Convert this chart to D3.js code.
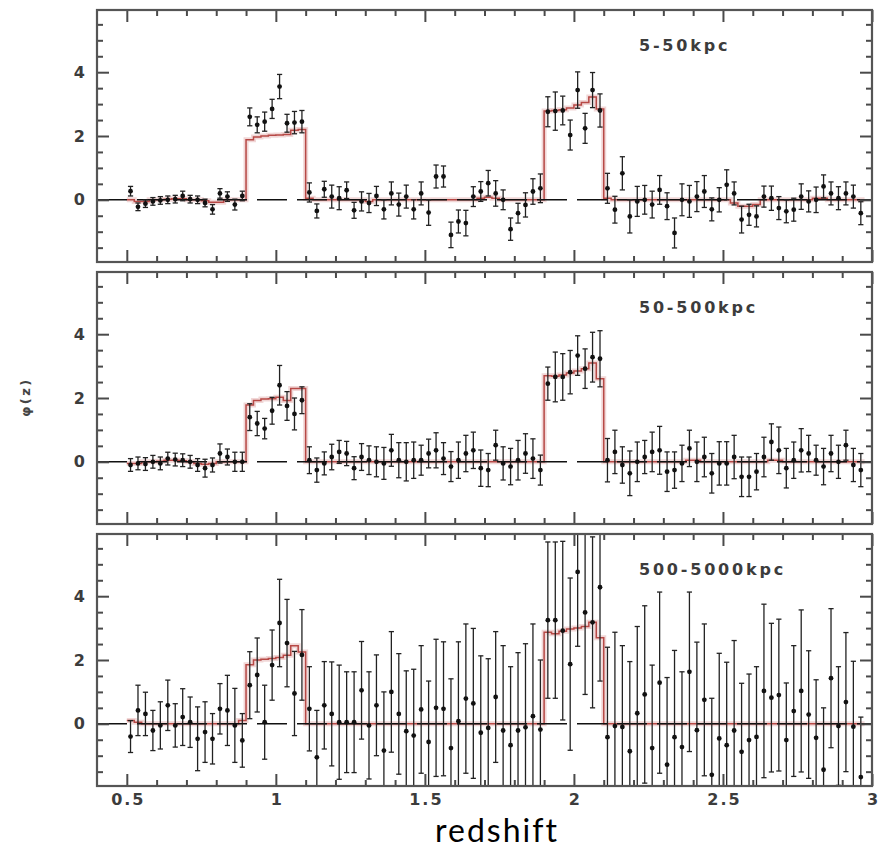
<!DOCTYPE html>
<html><head><meta charset="utf-8">
<script src="https://cdn.jsdelivr.net/npm/d3@7"></script>
<style>body{margin:0;background:#fff}svg{display:block}</style>
</head><body><svg id="c" width="889" height="851"></svg>
<script>
// ---- data ----
const redshift = [
 0.5125,0.5375,0.5625,0.5875,0.6125,0.6375,0.6625,0.6875,0.7125,0.7375,
 0.7625,0.7875,0.8125,0.8375,0.8625,0.8875,0.9125,0.9375,0.9625,0.9875,
 1.0125,1.0375,1.0625,1.0875,1.1125,1.1375,1.1625,1.1875,1.2125,1.2375,
 1.2625,1.2875,1.3125,1.3375,1.3625,1.3875,1.4125,1.4375,1.4625,1.4875,
 1.5125,1.5375,1.5625,1.5875,1.6125,1.6375,1.6625,1.6875,1.7125,1.7375,
 1.7625,1.7875,1.8125,1.8375,1.8625,1.8875,1.9125,1.9375,1.9625,1.9875,
 2.0125,2.0375,2.0625,2.0875,2.1125,2.1375,2.1625,2.1875,2.2125,2.2375,
 2.2625,2.2875,2.3125,2.3375,2.3625,2.3875,2.4125,2.4375,2.4625,2.4875,
 2.5125,2.5375,2.5625,2.5875,2.6125,2.6375,2.6625,2.6875,2.7125,2.7375,
 2.7625,2.7875,2.8125,2.8375,2.8625,2.8875,2.9125,2.9375,2.9625];
const modelRange = [0.5, 2.975];
const panelLabels = ["5-50kpc", "50-500kpc", "500-5000kpc"];

const phi1 = [
 0.27,-0.22,-0.12,-0.05,-0.02,0.0,0.02,0.12,0.02,0.0,
 -0.1,-0.3,0.2,0.1,-0.15,0.12,2.6,2.35,2.45,2.85,
 3.55,2.4,2.42,2.45,0.23,-0.35,0.33,0.1,0.05,0.3,
 -0.33,-0.05,-0.1,0.12,-0.3,0.2,-0.15,0.1,-0.3,0.2,
 -0.4,0.73,0.73,-1.1,-0.68,-0.73,0.1,0.26,0.52,0.2,
 0.0,-0.92,-0.42,-0.16,0.26,0.36,2.76,2.78,2.8,2.03,
 3.44,2.24,3.44,2.8,0.36,-0.31,0.83,-0.52,-0.05,0.0,
 -0.15,0.31,-0.2,-1.04,0.0,-0.05,0.1,0.26,-0.3,0.0,
 0.47,0.2,-0.62,-0.47,-0.52,0.1,0.05,-0.26,-0.36,-0.31,
 0.1,-0.05,0.0,0.42,0.2,0.05,0.2,0.1,-0.42];
const err1 = [
 0.15,0.12,0.12,0.12,0.12,0.12,0.12,0.15,0.12,0.12,
 0.12,0.15,0.15,0.15,0.17,0.15,0.28,0.25,0.3,0.3,
 0.38,0.28,0.35,0.35,0.3,0.22,0.25,0.36,0.36,0.26,
 0.25,0.3,0.3,0.3,0.3,0.36,0.36,0.36,0.3,0.36,
 0.4,0.36,0.33,0.4,0.36,0.4,0.31,0.31,0.4,0.4,
 0.31,0.35,0.31,0.38,0.4,0.45,0.47,0.6,0.45,0.47,
 0.57,0.47,0.55,0.52,0.47,0.42,0.52,0.52,0.47,0.45,
 0.42,0.45,0.42,0.47,0.5,0.5,0.47,0.5,0.36,0.38,
 0.47,0.36,0.42,0.33,0.33,0.33,0.38,0.36,0.36,0.36,
 0.4,0.33,0.4,0.36,0.36,0.36,0.36,0.36,0.36];
const model1 = [
 0.0,-0.05,-0.05,0.0,0.0,0.02,0.03,0.03,0.0,0.0,
 -0.03,-0.08,-0.08,0.0,0.0,0.0,1.88,1.97,2.0,2.02,
 2.03,2.05,2.18,2.2,0.05,0.0,0.0,0.0,0.0,0.0,
 0.0,0.0,-0.05,0.0,0.0,0.0,0.0,0.0,0.0,0.0,
 0.0,0.0,0.0,0.0,0.0,0.0,0.0,0.05,0.08,0.05,
 0.0,0.0,0.0,0.0,0.0,0.0,2.78,2.8,2.82,2.88,
 2.97,3.05,3.22,2.85,0.05,0.0,0.0,0.0,0.0,0.0,
 0.0,0.0,0.0,0.0,0.0,0.0,0.0,0.0,0.0,0.0,
 0.0,-0.1,-0.2,-0.2,-0.15,0.0,0.0,0.0,0.0,0.0,
 0.0,0.0,0.05,0.05,0.0,0.0,0.0,0.0,0.0];

const phi2 = [
 -0.1,-0.05,-0.07,0.0,-0.05,0.1,0.07,0.05,0.0,-0.1,
 -0.2,-0.1,0.26,0.15,0.0,0.0,1.4,1.2,1.04,1.6,
 2.4,1.75,1.5,1.93,0.05,-0.26,-0.05,0.15,0.31,0.26,
 -0.2,0.15,0.05,0.0,-0.05,0.36,0.05,0.0,0.05,0.05,
 0.26,0.36,0.1,-0.15,0.05,0.26,0.36,-0.2,-0.26,0.52,
 -0.05,-0.15,0.05,0.26,0.1,-0.26,2.45,2.66,2.66,2.81,
 3.33,2.92,3.28,3.23,0.05,0.31,-0.1,-0.36,0.0,0.15,
 0.31,0.36,-0.31,-0.26,-0.05,0.42,0.0,0.15,-0.36,-0.05,
 -0.05,0.15,-0.47,-0.47,-0.31,0.15,0.62,0.36,-0.2,0.05,
 0.36,0.26,0.05,-0.15,0.26,0.0,0.52,-0.1,-0.26];
const err2 = [
 0.2,0.2,0.2,0.2,0.2,0.2,0.2,0.2,0.2,0.2,
 0.28,0.22,0.3,0.25,0.3,0.3,0.42,0.38,0.32,0.42,
 0.62,0.45,0.5,0.42,0.42,0.38,0.36,0.4,0.36,0.38,
 0.36,0.42,0.45,0.47,0.5,0.5,0.55,0.6,0.57,0.47,
 0.45,0.55,0.5,0.47,0.57,0.57,0.57,0.57,0.52,0.47,
 0.52,0.57,0.62,0.62,0.62,0.47,0.52,0.78,0.73,0.68,
 0.62,0.62,0.78,0.88,0.68,0.68,0.57,0.7,0.62,0.52,
 0.62,0.75,0.62,0.57,0.57,0.57,0.62,0.62,0.62,0.68,
 0.68,0.68,0.62,0.62,0.57,0.62,0.57,0.73,0.62,0.57,
 0.68,0.57,0.47,0.57,0.57,0.52,0.47,0.52,0.52];
const model2 = [
 -0.05,-0.05,0.0,0.0,0.02,0.05,0.05,0.03,0.0,-0.05,
 -0.08,-0.05,0.0,0.0,0.0,0.0,1.78,1.92,1.97,1.98,
 2.02,1.92,2.3,2.3,0.0,0.0,0.0,0.0,0.0,0.0,
 0.0,0.0,0.0,0.0,0.0,0.0,0.0,0.0,0.0,0.0,
 0.0,0.0,0.0,0.0,0.0,0.0,0.0,0.0,0.0,0.0,
 0.0,0.0,0.0,0.0,0.0,0.0,2.7,2.68,2.72,2.78,
 2.85,2.92,3.1,2.6,0.0,0.0,0.0,0.0,0.0,0.0,
 0.0,0.0,0.0,0.0,0.0,0.05,0.05,0.0,0.0,0.0,
 0.0,0.0,0.0,0.0,0.0,0.0,0.05,0.05,0.0,0.0,
 0.0,0.0,0.0,0.0,0.0,0.0,0.0,0.0,0.0];

const phi3 = [
 -0.4,0.42,0.31,-0.21,-0.05,0.58,-0.05,0.21,0.05,-0.47,
 -0.26,-0.47,0.47,0.42,-0.05,-0.52,1.21,1.53,0.05,1.84,
 3.16,2.53,0.95,2.16,0.47,-1.05,0.58,0.31,0.05,0.05,
 0.05,1.05,-0.05,0.58,-0.84,1.0,0.31,-0.23,-0.37,0.45,
 -0.57,0.5,0.47,-0.76,0.08,0.79,0.64,-0.28,-0.13,0.84,
 -0.21,-0.67,-0.21,-0.11,0.24,-0.18,3.25,3.25,2.92,1.87,
 4.76,3.49,3.18,4.28,-0.42,-0.07,-0.1,-0.86,0.33,0.92,
 -0.76,1.29,-1.28,-0.42,-0.73,1.63,-0.2,0.75,-1.6,-0.46,
 -0.67,-0.21,-0.88,-0.51,-0.41,1.03,0.82,0.9,-0.51,0.4,
 1.03,0.29,-0.44,-1.44,1.43,-0.07,0.68,-0.09,-1.67];
const err3 = [
 0.5,0.79,0.68,0.63,0.74,0.79,0.68,0.89,0.79,1.0,
 0.95,0.79,0.79,1.1,1.16,0.84,1.05,1.16,1.16,1.1,
 1.37,1.37,1.32,1.42,1.32,1.47,1.37,1.63,1.79,1.58,
 1.58,1.53,1.68,1.58,1.84,1.89,1.89,1.89,2.08,2.0,
 1.91,2.15,2.1,2.17,2.49,2.34,2.35,2.41,2.17,2.05,
 2.66,2.46,2.44,2.62,2.89,2.18,2.45,2.45,2.8,2.7,
 2.33,2.57,2.68,2.94,2.82,2.94,2.55,2.81,2.72,2.78,
 2.6,2.84,2.73,2.72,2.36,2.5,2.76,2.38,2.4,2.67,
 2.6,2.82,2.15,2.07,2.2,2.72,2.33,2.38,1.79,2.05,
 2.54,2.0,1.82,1.94,2.18,1.86,2.18,2.05,1.88];
const model3 = [
 0.1,0.05,0.0,0.0,0.0,0.0,0.0,0.0,0.0,0.0,
 0.0,0.0,0.0,0.0,0.0,0.1,1.85,2.0,2.02,2.05,
 2.08,2.15,2.45,2.25,0.0,0.0,0.0,0.0,0.0,0.0,
 0.0,0.0,0.0,0.0,0.0,0.0,0.0,0.0,0.0,0.0,
 0.0,0.0,0.0,0.0,0.0,0.0,0.0,0.0,0.0,0.0,
 0.0,0.0,0.0,0.0,0.0,0.0,2.87,2.82,2.9,2.97,
 3.0,3.05,3.18,2.7,0.0,0.0,0.0,0.0,0.0,0.0,
 0.0,0.0,0.0,0.0,0.0,0.0,0.0,0.0,0.0,0.0,
 0.0,0.0,0.0,0.0,0.0,0.0,0.0,0.0,0.0,0.0,
 0.0,0.0,0.0,0.0,0.0,0.0,0.0,0.0,0.0];

const xDomain = [0.4, 3.0];
const yDomain = [-1.95, 5.95];
const xTickValues = [0.5, 1, 1.5, 2, 2.5, 3];
const xTickLabels = ["0.5", "1", "1.5", "2", "2.5", "3"];
const yTickValues = [0, 2, 4];
const yTickLabels = ["0", "2", "4"];
const xTitle = "redshift";
const yTitle = "φ(z)";

// ---- drawing ----
const svg = d3.select("#c");
const left = 97, right = 872;
const panelTops = [10, 272, 534], panelH = 252;
const x = d3.scaleLinear().domain(xDomain).range([left, right]);
const xMinor = x.ticks(26).filter(t => !xTickValues.some(v => Math.abs(v - t) < 1e-6) && t > xDomain[0] + 1e-6 && t < xDomain[1] - 1e-6);

const panels = [
  {label: panelLabels[0], v: phi1, e: err1, m: model1},
  {label: panelLabels[1], v: phi2, e: err2, m: model2},
  {label: panelLabels[2], v: phi3, e: err3, m: model3}
];
const defs = svg.append("defs");
const tickColor = "#4a4a4a";
const textColor = "#3c3c3c";
const font = "'DejaVu Sans', sans-serif";

panels.forEach((p, k) => {
  const top = panelTops[k], bottom = top + panelH;
  const y = d3.scaleLinear().domain(yDomain).range([bottom, top]);
  const yMinor = y.ticks(16).filter(t => !yTickValues.some(v => Math.abs(v - t) < 1e-6));
  const g = svg.append("g");
  const cid = "clip" + k;
  defs.append("clipPath").attr("id", cid).append("rect")
    .attr("x", left).attr("y", top).attr("width", right - left).attr("height", panelH);
  const inner = g.append("g").attr("clip-path", `url(#${cid})`);

  // model step curve (under the reference line and the points)
  const pts = [[modelRange[0], p.m[0]]]
    .concat(redshift.map((z, i) => [z, p.m[i]]))
    .concat([[modelRange[1], p.m[p.m.length - 1]]]);
  const line = d3.line().x(d => x(d[0])).y(d => y(d[1])).curve(d3.curveStep);
  inner.append("path").attr("d", line(pts)).attr("fill", "none")
    .attr("stroke", "rgba(205,110,110,0.28)").attr("stroke-width", 5);
  inner.append("path").attr("d", line(pts)).attr("fill", "none")
    .attr("stroke", "#b03a36").attr("stroke-width", 1.5).attr("opacity", 0.9);

  // zero reference (long dashes)
  inner.append("line")
    .attr("x1", x(xDomain[0])).attr("x2", x(xDomain[1]))
    .attr("y1", y(0)).attr("y2", y(0))
    .attr("stroke", "#111").attr("stroke-width", 1.5)
    .attr("stroke-dasharray", "30,10");

  const idx = d3.range(redshift.length);
  // error bars
  const eb = inner.append("g").attr("stroke", "#222").attr("stroke-width", 1.3).attr("fill", "none");
  eb.selectAll("line.v").data(idx).join("line").attr("class", "v")
    .attr("x1", i => x(redshift[i])).attr("x2", i => x(redshift[i]))
    .attr("y1", i => y(p.v[i] - p.e[i])).attr("y2", i => y(p.v[i] + p.e[i]));
  eb.selectAll("line.t").data(idx).join("line").attr("class", "t")
    .attr("x1", i => x(redshift[i]) - 2.6).attr("x2", i => x(redshift[i]) + 2.6)
    .attr("y1", i => y(p.v[i] + p.e[i])).attr("y2", i => y(p.v[i] + p.e[i]));
  eb.selectAll("line.b").data(idx).join("line").attr("class", "b")
    .attr("x1", i => x(redshift[i]) - 2.6).attr("x2", i => x(redshift[i]) + 2.6)
    .attr("y1", i => y(p.v[i] - p.e[i])).attr("y2", i => y(p.v[i] - p.e[i]));
  inner.append("g").selectAll("circle").data(idx).join("circle")
    .attr("cx", i => x(redshift[i])).attr("cy", i => y(p.v[i])).attr("r", 2.4)
    .attr("fill", "#111");

  // ticks on four sides
  function tk(gen, vals, size, tr) {
    const a = g.append("g").attr("transform", tr)
      .call(gen.tickValues(vals).tickSize(size).tickFormat(""));
    a.select(".domain").remove();
    a.selectAll("line").attr("stroke", tickColor).attr("stroke-width", 2);
  }
  tk(d3.axisTop(x), xTickValues, 12, `translate(0,${bottom})`);
  tk(d3.axisTop(x), xMinor, 6, `translate(0,${bottom})`);
  tk(d3.axisBottom(x), xTickValues, 12, `translate(0,${top})`);
  tk(d3.axisBottom(x), xMinor, 6, `translate(0,${top})`);
  tk(d3.axisRight(y), yTickValues, 12, `translate(${left},0)`);
  tk(d3.axisRight(y), yMinor, 6, `translate(${left},0)`);
  tk(d3.axisLeft(y), yTickValues, 12, `translate(${right},0)`);
  tk(d3.axisLeft(y), yMinor, 6, `translate(${right},0)`);

  // frame
  g.append("rect").attr("x", left).attr("y", top).attr("width", right - left).attr("height", panelH)
    .attr("fill", "none").attr("stroke", "#555").attr("stroke-width", 2.2);

  // y tick labels
  const yl = g.append("g").attr("transform", `translate(${left},0)`)
    .call(d3.axisLeft(y).tickValues(yTickValues).tickSize(0).tickPadding(12)
      .tickFormat((d, i) => yTickLabels[i]));
  yl.select(".domain").remove();
  yl.selectAll("text").attr("font-family", font).attr("font-size", 16).attr("font-weight", "bold")
    .attr("fill", textColor);

  // panel label
  g.append("text").attr("x", 639).attr("y", top + 41).text(p.label)
    .attr("font-family", font).attr("font-size", 16).attr("font-weight", "bold")
    .attr("letter-spacing", "2.8px").attr("fill", textColor);

  if (k === panels.length - 1) {
    const xl = g.append("g").attr("transform", `translate(0,${bottom})`)
      .call(d3.axisBottom(x).tickValues(xTickValues).tickSize(0).tickPadding(8)
        .tickFormat((d, i) => xTickLabels[i]));
    xl.select(".domain").remove();
    xl.selectAll("text").attr("font-family", font).attr("font-size", 16).attr("font-weight", "bold")
      .attr("fill", textColor).attr("letter-spacing", "2px").attr("dx", "1px");
  }
});

// axis titles
svg.append("text").attr("transform", "translate(30,397) rotate(-90)")
  .attr("text-anchor", "middle").text(yTitle)
  .attr("font-family", font).attr("font-size", 13).attr("font-weight", "bold")
  .attr("letter-spacing", "2.5px").attr("fill", "#444");
svg.append("text").attr("x", 497).attr("y", 842).attr("text-anchor", "middle")
  .text(xTitle).attr("font-family", "Lato, sans-serif").attr("font-size", 32)
  .attr("letter-spacing", "2px").attr("fill", "#000");
</script>
</body></html>
